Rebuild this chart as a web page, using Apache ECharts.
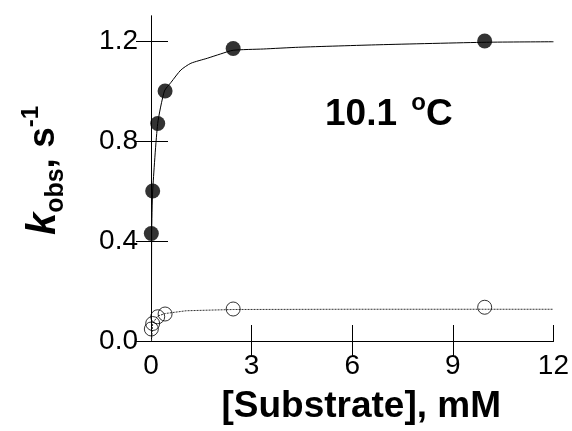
<!DOCTYPE html>
<html>
<head>
<meta charset="utf-8">
<script src="https://cdn.jsdelivr.net/npm/echarts@6/dist/echarts.min.js"></script>
<style>
  html, body { margin: 0; padding: 0; background: #fff; }
  #chart { width: 572px; height: 431px; }
</style>
</head>
<body>
<div id="chart"></div>
<script>
// measured points
const substrate = [0.01, 0.05, 0.2, 0.42, 2.45, 9.95]
const kobsFilled = [0.43, 0.60, 0.87, 1.00, 1.17, 1.20]
const kobsOpen = [0.048, 0.07, 0.097, 0.108, 0.128, 0.135]

// fitted curves
const fitFilledX = [0.015, 0.02, 0.05, 0.2, 0.4, 0.6, 0.89, 1.19, 1.68, 2.07, 2.45, 3.35, 4.4, 6.8, 10, 12]
const fitFilledY = [0.0, 0.43, 0.60, 0.87, 1.0, 1.035, 1.084, 1.111, 1.131, 1.148, 1.163, 1.168, 1.175, 1.185, 1.195, 1.197]
const fitOpenX = [0.015, 0.05, 0.2, 0.43, 1.05, 2.45, 6, 12]
const fitOpenY = [0.0, 0.07, 0.10, 0.11, 0.121, 0.126, 0.127, 0.127]

const xTicks = [0, 3, 6, 9, 12]
const yTicks = [0, 0.4, 0.8, 1.2]

const zip = (xs, ys) => xs.map((x, i) => [x, ys[i]])

const fontFamily = 'Liberation Sans, Arial, sans-serif'
const tickFont = { color: '#000', fontSize: 28, fontFamily: fontFamily }

const chart = echarts.init(document.getElementById('chart'))
chart.setOption({
  animation: false,
  backgroundColor: '#fff',
  grid: { left: 151, top: 16, right: 14, bottom: 90 },
  xAxis: [
    {
      type: 'value', min: 0, max: 12, interval: 3,
      splitLine: { show: false },
      axisLine: { lineStyle: { color: '#000', width: 1 } },
      axisTick: { inside: true, length: 16, lineStyle: { color: '#000' }, customValues: xTicks },
      axisLabel: Object.assign({ margin: 11, customValues: xTicks }, tickFont),
      name: '[Substrate], mM',
      nameLocation: 'middle',
      nameGap: 47,
      nameTextStyle: { color: '#000', fontSize: 37, fontWeight: 'bold', fontFamily: fontFamily, padding: [0, 0, 0, 18] }
    },
    {
      type: 'value', min: 0, max: 12, interval: 3, position: 'top',
      splitLine: { show: false },
      axisLine: { lineStyle: { color: '#000', width: 1 } },
      axisTick: { inside: true, length: 16, lineStyle: { color: '#000' }, customValues: [3, 6, 9] },
      axisLabel: { show: false }
    }
  ],
  yAxis: [
    {
      type: 'value', min: 0, max: 1.3,
      splitLine: { show: false },
      axisLine: { lineStyle: { color: '#000', width: 1 } },
      axisTick: { inside: true, length: 17, lineStyle: { color: '#000' }, customValues: yTicks },
      axisLabel: Object.assign({
        margin: 13,
        customValues: yTicks,
        formatter: v => v.toFixed(1)
      }, tickFont),
      name: '{k|k}{sub|obs}{s|, s}{sup|-1}',
      nameLocation: 'middle',
      nameRotate: 90,
      nameGap: 82,
      nameTextStyle: {
        color: '#000',
        fontFamily: fontFamily,
        padding: [0, 0, 0, 16],
        rich: {
          k: { fontSize: 40, fontWeight: 'bold', fontStyle: 'italic', lineHeight: 50, verticalAlign: 'middle' },
          sub: { fontSize: 25, fontWeight: 'bold', lineHeight: 50, verticalAlign: 'bottom' },
          s: { fontSize: 37, fontWeight: 'bold', lineHeight: 50, verticalAlign: 'middle' },
          sup: { fontSize: 24, fontWeight: 'bold', lineHeight: 50, verticalAlign: 'top' }
        }
      }
    },
    {
      type: 'value', min: 0, max: 1.3, position: 'right',
      splitLine: { show: false },
      axisLine: { lineStyle: { color: '#000', width: 1 } },
      axisTick: { inside: true, length: 15, lineStyle: { color: '#000' }, customValues: yTicks },
      axisLabel: { show: false }
    }
  ],
  graphic: [
    {
      type: 'text',
      left: 325,
      top: 91,
      style: {
        text: '{a|10.1 }{o|o}{a|C}',
        fill: '#000',
        font: 'bold 37px Liberation Sans, Arial, sans-serif',
        rich: {
          a: { fontSize: 37, fontWeight: 'bold', lineHeight: 42, verticalAlign: 'bottom', fontFamily: fontFamily },
          o: { fontSize: 24, fontWeight: 'bold', lineHeight: 42, verticalAlign: 'top', fontFamily: fontFamily, padding: [0, 0, 0, 4] }
        }
      }
    }
  ],
  series: [
    {
      type: 'line',
      data: zip(fitFilledX, fitFilledY),
      showSymbol: false,
      smooth: 0.2,
      lineStyle: { color: '#000', width: 1 },
      z: 1
    },
    {
      type: 'line',
      data: zip(fitOpenX, fitOpenY),
      showSymbol: false,
      lineStyle: { color: '#333', width: 1, type: [2, 1] },
      z: 1
    },
    {
      type: 'scatter',
      data: zip(substrate, kobsFilled),
      symbol: 'circle',
      symbolSize: 15,
      itemStyle: { color: '#000' },
      z: 3
    },
    {
      type: 'scatter',
      data: zip(substrate, kobsOpen),
      symbol: 'circle',
      symbolSize: 14,
      itemStyle: { color: 'rgba(0,0,0,0)', borderColor: '#000', borderWidth: 1 },
      z: 3
    }
  ]
})
</script>
</body>
</html>
